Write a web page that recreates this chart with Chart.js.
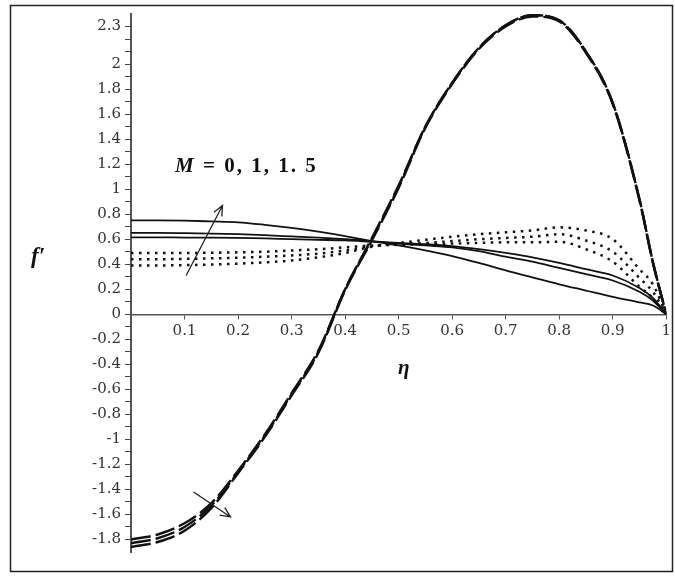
<!DOCTYPE html>
<html>
<head>
<meta charset="utf-8">
<script src="https://cdn.jsdelivr.net/npm/chart.js"></script>
<style>
  html, body { margin: 0; padding: 0; background: #fff; }
  #wrap { width: 675px; height: 576px; }
</style>
</head>
<body>
<div id="wrap"><canvas id="chart" width="675" height="576"></canvas></div>
<script>
// eta grid (x)
const eta = [0, 0.05, 0.1, 0.15, 0.2, 0.25, 0.3, 0.35, 0.4, 0.45, 0.5,
  0.55, 0.6, 0.65, 0.7, 0.75, 0.8, 0.85, 0.9, 0.95, 0.975, 1];

// dashed curves (three close ones)
const dashed1 = [-1.80, -1.76, -1.67, -1.51, -1.25, -0.96, -0.63, -0.29, 0.20, 0.61, 1.03,
  1.50, 1.85, 2.13, 2.31, 2.39, 2.35, 2.10, 1.69, 0.92, 0.42, 0];
const dashed2 = [-1.83, -1.79, -1.70, -1.53, -1.26, -0.97, -0.64, -0.30, 0.20, 0.60, 1.02,
  1.50, 1.85, 2.13, 2.31, 2.39, 2.35, 2.10, 1.69, 0.92, 0.42, 0];
const dashed3 = [-1.86, -1.82, -1.73, -1.55, -1.27, -0.98, -0.65, -0.31, 0.19, 0.59, 1.01,
  1.49, 1.84, 2.12, 2.30, 2.38, 2.34, 2.09, 1.68, 0.91, 0.41, 0];

// solid curves
const solid1 = [0.75, 0.75, 0.748, 0.742, 0.735, 0.715, 0.69, 0.66, 0.625, 0.585, 0.55,
  0.51, 0.465, 0.41, 0.35, 0.295, 0.24, 0.19, 0.14, 0.095, 0.07, 0];
const solid2 = [0.65, 0.65, 0.648, 0.645, 0.64, 0.632, 0.622, 0.612, 0.60, 0.585, 0.565,
  0.55, 0.535, 0.505, 0.46, 0.42, 0.37, 0.32, 0.27, 0.18, 0.11, 0];
const solid3 = [0.615, 0.615, 0.613, 0.612, 0.61, 0.606, 0.60, 0.595, 0.59, 0.58, 0.57,
  0.56, 0.545, 0.52, 0.49, 0.455, 0.41, 0.36, 0.31, 0.21, 0.13, 0];

// dotted curves
const dotted1 = [0.49, 0.49, 0.49, 0.492, 0.495, 0.50, 0.51, 0.52, 0.535, 0.55, 0.555,
  0.56, 0.565, 0.57, 0.575, 0.575, 0.58, 0.52, 0.42, 0.22, 0.13, 0];
const dotted2 = [0.44, 0.44, 0.443, 0.447, 0.452, 0.46, 0.47, 0.485, 0.51, 0.545, 0.56,
  0.57, 0.585, 0.60, 0.61, 0.62, 0.64, 0.59, 0.50, 0.29, 0.18, 0];
const dotted3 = [0.39, 0.39, 0.393, 0.398, 0.405, 0.415, 0.43, 0.455, 0.49, 0.54, 0.57,
  0.595, 0.62, 0.64, 0.655, 0.67, 0.695, 0.67, 0.60, 0.36, 0.24, 0];

// ticks
const xTicks = [0.1, 0.2, 0.3, 0.4, 0.5, 0.6, 0.7, 0.8, 0.9, 1];
const yTicks = [];
for (let i = -18; i <= 23; i++) yTicks.push(i / 10);
const yLabels = [2.3, 2, 1.8, 1.6, 1.4, 1.2, 1, 0.8, 0.6, 0.4, 0.2, 0,
  -0.2, -0.4, -0.6, -0.8, -1, -1.2, -1.4, -1.6, -1.8];

// arrows (data coords) and annotation text
const arrowUp = { from: [0.103, 0.31], to: [0.171, 0.87] };
const arrowDown = { from: [0.117, -1.42], to: [0.186, -1.62] };
const labelM = 'M';
const labelMRest = ' = 0, 1, 1. 5';

const FONT = '"Liberation Serif", "DejaVu Serif", serif';
const TICK_FONT = '"DejaVu Serif", serif';

function pts(arr) {
  return eta.map((x, i) => ({ x: x, y: arr[i] }));
}

function line(arr, kind) {
  const ds = {
    data: pts(arr),
    borderColor: '#111',
    pointRadius: 0,
    fill: false,
    cubicInterpolationMode: 'monotone',
    borderCapStyle: 'butt',
  };
  if (kind === 'dash') {
    ds.borderWidth = 2.4;
    ds.borderDash = [20, 5];
  } else if (kind === 'dot') {
    ds.borderWidth = 2.5;
    ds.borderDash = [2.5, 5.5];
  } else {
    ds.borderWidth = 1.8;
  }
  return ds;
}

function drawArrow(ctx, chart, a) {
  const xs = chart.scales.x, ys = chart.scales.y;
  const x1 = xs.getPixelForValue(a.from[0]), y1 = ys.getPixelForValue(a.from[1]);
  const x2 = xs.getPixelForValue(a.to[0]), y2 = ys.getPixelForValue(a.to[1]);
  const ang = Math.atan2(y2 - y1, x2 - x1);
  const len = 11, spread = 0.42;
  ctx.beginPath();
  ctx.moveTo(x1, y1);
  ctx.lineTo(x2, y2);
  ctx.moveTo(x2 - len * Math.cos(ang - spread), y2 - len * Math.sin(ang - spread));
  ctx.lineTo(x2, y2);
  ctx.lineTo(x2 - len * Math.cos(ang + spread), y2 - len * Math.sin(ang + spread));
  ctx.stroke();
}

const decor = {
  id: 'decor',
  afterDraw(chart) {
    const ctx = chart.ctx;
    ctx.save();
    // outer frame
    ctx.strokeStyle = '#222';
    ctx.lineWidth = 1.5;
    ctx.strokeRect(10.5, 5.5, 662, 566);

    // arrows
    ctx.strokeStyle = '#222';
    ctx.lineWidth = 1.3;
    drawArrow(ctx, chart, arrowUp);
    drawArrow(ctx, chart, arrowDown);

    // texts
    ctx.fillStyle = '#111';
    ctx.textBaseline = 'middle';
    ctx.textAlign = 'left';
    ctx.font = 'italic bold 23px ' + FONT;
    ctx.fillText('f\u2032', 31, 257);
    ctx.font = 'italic bold 21px ' + FONT;
    ctx.fillText('\u03b7', 398, 369);
    ctx.letterSpacing = '2px';
    ctx.font = 'italic bold 21px ' + FONT;
    ctx.fillText(labelM, 175, 167);
    const w = ctx.measureText(labelM).width;
    ctx.font = 'bold 21px ' + FONT;
    ctx.fillText(labelMRest, 175 + w, 167);
    ctx.restore();
  }
};

new Chart(document.getElementById('chart'), {
  type: 'line',
  data: {
    datasets: [
      line(dashed1, 'dash'), line(dashed2, 'dash'), line(dashed3, 'dash'),
      line(solid1, 'solid'), line(solid2, 'solid'), line(solid3, 'solid'),
      line(dotted1, 'dot'), line(dotted2, 'dot'), line(dotted3, 'dot'),
    ],
  },
  options: {
    responsive: false,
    animation: false,
    devicePixelRatio: 1,
    layout: { padding: { top: 14, right: 5, bottom: 24, left: 0 } },
    plugins: { legend: { display: false }, tooltip: { enabled: false } },
    scales: {
      x: {
        type: 'linear',
        min: 0,
        max: 1,
        position: { y: 0 },
        afterBuildTicks: scale => { scale.ticks = xTicks.map(v => ({ value: v })); },
        ticks: {
          autoSkip: false,
          maxRotation: 0,
          padding: 4,
          color: '#333',
          font: { family: TICK_FONT, size: 15 },
          callback: v => (v === 1 ? '1' : v.toFixed(1)),
        },
        grid: { drawOnChartArea: false, drawTicks: true, tickLength: 4, color: '#555' },
        border: { color: '#555', width: 1.5 },
      },
      y: {
        type: 'linear',
        min: -1.9,
        max: 2.4,
        position: 'left',
        afterBuildTicks: scale => { scale.ticks = yTicks.map(v => ({ value: v })); },
        afterFit: scale => { scale.width = 131; },
        ticks: {
          autoSkip: false,
          padding: 4,
          color: '#333',
          font: { family: TICK_FONT, size: 15 },
          callback: v => {
            const k = Math.round(v * 10);
            const hit = yLabels.some(l => Math.round(l * 10) === k);
            return hit ? String(k / 10) : '';
          },
        },
        grid: { drawOnChartArea: false, drawTicks: true, tickLength: 6, color: '#444' },
        border: { color: '#555', width: 2 },
      },
    },
  },
  plugins: [decor],
});
</script>
</body>
</html>
